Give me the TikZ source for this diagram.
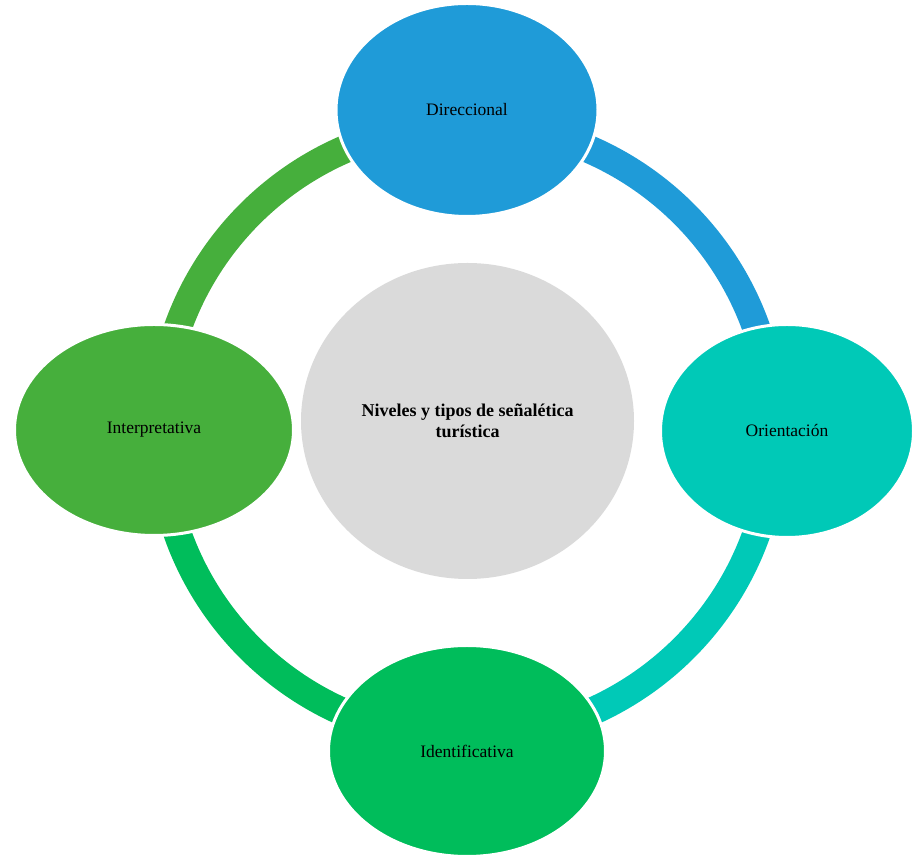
\documentclass[tikz,border=0pt]{standalone}
\usepackage{fontspec}
\setmainfont{Liberation Serif}
\usetikzlibrary{shapes.geometric}
\definecolor{cblue}{HTML}{1F9BD8}
\definecolor{cteal}{HTML}{00C9B7}
\definecolor{cgreen}{HTML}{00BD5B}
\definecolor{clgreen}{HTML}{46AF3C}
\definecolor{cgray}{HTML}{DADADA}
\tikzset{
  ringarc/.style={line width=28pt, line cap=butt},
  bubble/.style={ellipse, draw=white, line width=3pt, inner sep=0pt,
    font=\fontsize{17.5}{21}\selectfont, text=black},
  hub/.style={ellipse, fill=cgray, inner sep=0pt, align=center,
    font=\fontsize{18}{21}\selectfont\bfseries, text=black}
}
\begin{document}
\begin{tikzpicture}[x=1pt,y=1pt]
\useasboundingbox (0,0) rectangle (923,867);
\coordinate (ring) at (467,436);
% ring arcs
\draw[ringarc, cblue]   ([shift={(ring)}]90:307) arc[start angle=90, end angle=0, radius=307];
\draw[ringarc, cteal]   ([shift={(ring)}]0:307) arc[start angle=0, end angle=-90, radius=307];
\draw[ringarc, cgreen]  ([shift={(ring)}]-90:307) arc[start angle=-90, end angle=-180, radius=307];
\draw[ringarc, clgreen] ([shift={(ring)}]180:307) arc[start angle=180, end angle=90, radius=307];
% hub
\node[hub, minimum width=333pt, minimum height=316pt] (hub) at (467.5,446)
  {Niveles y tipos de señalética\\turística};
% bubbles
\node[bubble, fill=cblue, minimum width=262pt, minimum height=213pt] (dir) at (467,757) {Direccional};
\node[bubble, fill=cteal, minimum width=253pt, minimum height=213pt] (ori) at (787,436) {Orientación};
\node[bubble, fill=cgreen, minimum width=277pt, minimum height=211pt] (ide) at (467,116) {Identificativa};
\node[bubble, fill=clgreen, minimum width=279pt, minimum height=211pt] (int) at (154,437) {Interpretativa};
\end{tikzpicture}
\end{document}
